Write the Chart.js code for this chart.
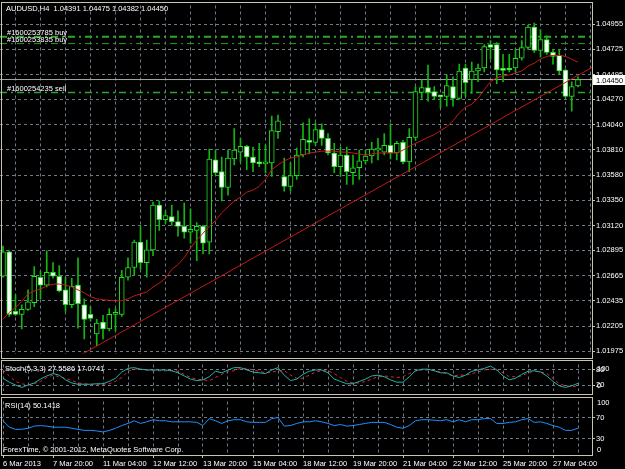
<!DOCTYPE html>
<html>
<head>
<meta charset="utf-8">
<title>AUDUSD,H4</title>
<script src="https://cdn.jsdelivr.net/npm/chart.js@4.4.1/dist/chart.umd.min.js"></script>
<style>
  body { margin: 0; background: #000; }
  #wrap { position: relative; width: 625px; height: 469px; background: #000; overflow: hidden; }
  #wrap canvas { position: absolute; left: 0; }
</style>
</head>
<body>
<div id="wrap">
  <canvas id="mainChart" width="625" height="359" style="top:0"></canvas>
  <canvas id="stochChart" width="625" height="37" style="top:359px"></canvas>
  <canvas id="rsiChart" width="625" height="73" style="top:396px"></canvas>
</div>
<script>
// ---- data ----
var symbolTitle = 'AUDUSD,H4  1.04391 1.04475 1.04382 1.04450';
var timeLabels = ['6 Mar 2013', '7 Mar 20:00', '11 Mar 04:00', '12 Mar 12:00', '13 Mar 20:00', '15 Mar 04:00',
  '18 Mar 12:00', '19 Mar 20:00', '21 Mar 04:00', '22 Mar 12:00', '25 Mar 20:00', '27 Mar 04:00'];
var priceTicks = [1.01975, 1.02205, 1.02435, 1.02665, 1.02895, 1.03120, 1.03350, 1.03580, 1.03810,
  1.04040, 1.04270, 1.04495, 1.04725, 1.04955];

var opens = [1.02659, 1.02881, 1.02339, 1.02312, 1.02357, 1.02418, 1.02650, 1.02579, 1.02694, 1.02659,
  1.02535, 1.02400, 1.02579, 1.02400, 1.02312, 1.02134, 1.02241, 1.02179, 1.02312, 1.02312,
  1.02650, 1.02739, 1.02970, 1.02784, 1.02899, 1.03308, 1.03175, 1.03202, 1.03157, 1.03113,
  1.03060, 1.03077, 1.03113, 1.02970, 1.03718, 1.03611, 1.03469, 1.03727, 1.03789, 1.03843,
  1.03745, 1.03691, 1.03682, 1.03691, 1.03976, 1.03567, 1.03478, 1.03576, 1.03763, 1.03896,
  1.03878, 1.03994, 1.03914, 1.03781, 1.03656, 1.03763, 1.03602, 1.03647, 1.03709, 1.03754,
  1.03807, 1.03789, 1.03851, 1.03781, 1.03878, 1.03700, 1.03923, 1.04332, 1.04377, 1.04341,
  1.04297, 1.04297, 1.04385, 1.04279, 1.04555, 1.04448, 1.04528, 1.04555, 1.04768, 1.04768,
  1.04537, 1.04555, 1.04555, 1.04644, 1.04742, 1.04928, 1.04715, 1.04813, 1.04697, 1.04670,
  1.04537, 1.04297, 1.04391];
var highs = [1.02935, 1.02890, 1.02490, 1.02400, 1.02535, 1.02748, 1.02703, 1.02890, 1.02784, 1.02757,
  1.02650, 1.02641, 1.02828, 1.02454, 1.02383, 1.02267, 1.02303, 1.02366, 1.02366, 1.02712,
  1.02828, 1.02988, 1.03113, 1.02988, 1.03335, 1.03344, 1.03255, 1.03308, 1.03255, 1.03326,
  1.03273, 1.03148, 1.03122, 1.03816, 1.03807, 1.03745, 1.03807, 1.04003, 1.03914, 1.03851,
  1.03834, 1.03869, 1.03851, 1.04118, 1.04127, 1.03736, 1.03691, 1.03825, 1.04056, 1.04092,
  1.04056, 1.04047, 1.03958, 1.03869, 1.03834, 1.03834, 1.03763, 1.03807, 1.03807, 1.03878,
  1.03914, 1.03958, 1.04047, 1.03887, 1.03896, 1.04003, 1.04385, 1.04448, 1.04581, 1.04385,
  1.04305, 1.04492, 1.04475, 1.04590, 1.04590, 1.04608, 1.04590, 1.04768, 1.04804, 1.04786,
  1.04679, 1.04679, 1.04724, 1.04804, 1.04946, 1.04964, 1.04902, 1.04848, 1.04724, 1.04724,
  1.04546, 1.04430, 1.04475];
var lows = [1.02650, 1.02294, 1.02303, 1.02179, 1.02348, 1.02383, 1.02454, 1.02561, 1.02641, 1.02517,
  1.02339, 1.02374, 1.02187, 1.02089, 1.02250, 1.02027, 1.02089, 1.02161, 1.02161, 1.02294,
  1.02623, 1.02668, 1.02721, 1.02650, 1.02846, 1.03077, 1.03140, 1.03122, 1.03024, 1.03006,
  1.02961, 1.02801, 1.02863, 1.02863, 1.03585, 1.03344, 1.03398, 1.03673, 1.03700, 1.03629,
  1.03611, 1.03656, 1.03602, 1.03567, 1.03914, 1.03433, 1.03433, 1.03540, 1.03745, 1.03772,
  1.03851, 1.03851, 1.03763, 1.03602, 1.03567, 1.03496, 1.03496, 1.03540, 1.03682, 1.03691,
  1.03718, 1.03763, 1.03727, 1.03718, 1.03682, 1.03611, 1.03896, 1.04279, 1.04252, 1.04270,
  1.04190, 1.04207, 1.04207, 1.04270, 1.04297, 1.04323, 1.04430, 1.04519, 1.04635, 1.04412,
  1.04430, 1.04519, 1.04519, 1.04626, 1.04724, 1.04697, 1.04653, 1.04679, 1.04590, 1.04501,
  1.04279, 1.04163, 1.04382];
var closes = [1.02881, 1.02312, 1.02312, 1.02357, 1.02427, 1.02659, 1.02579, 1.02694, 1.02659, 1.02526,
  1.02400, 1.02570, 1.02409, 1.02267, 1.02276, 1.02232, 1.02179, 1.02312, 1.02321, 1.02650,
  1.02739, 1.02970, 1.02784, 1.02899, 1.03308, 1.03175, 1.03211, 1.03157, 1.03113, 1.03060,
  1.03086, 1.03113, 1.02961, 1.03727, 1.03602, 1.03469, 1.03736, 1.03807, 1.03843, 1.03745,
  1.03691, 1.03682, 1.03691, 1.03985, 1.04074, 1.03478, 1.03576, 1.03763, 1.03905, 1.03878,
  1.03994, 1.03914, 1.03781, 1.03656, 1.03763, 1.03611, 1.03647, 1.03709, 1.03754, 1.03816,
  1.03810, 1.03851, 1.03781, 1.03869, 1.03700, 1.03923, 1.04341, 1.04377, 1.04332, 1.04297,
  1.04292, 1.04394, 1.04279, 1.04528, 1.04421, 1.04528, 1.04555, 1.04750, 1.04742, 1.04537,
  1.04534, 1.04537, 1.04644, 1.04742, 1.04928, 1.04715, 1.04813, 1.04697, 1.04661, 1.04528,
  1.04297, 1.04385, 1.04450];

var fastMA = [1.02267, 1.02330, 1.02374, 1.02428, 1.02499, 1.02525, 1.02543, 1.02570, 1.02588, 1.02588,
  1.02579, 1.02561, 1.02535, 1.02508, 1.02472, 1.02454, 1.02445, 1.02441, 1.02436, 1.02436,
  1.02454, 1.02481, 1.02499, 1.02517, 1.02561, 1.02596, 1.02641, 1.02721, 1.02766, 1.02828,
  1.02917, 1.02988, 1.03051, 1.03113, 1.03166, 1.03238, 1.03291, 1.03344, 1.03380, 1.03425,
  1.03443, 1.03478, 1.03540, 1.03629, 1.03673, 1.03709, 1.03736, 1.03745, 1.03763, 1.03781,
  1.03789, 1.03798, 1.03798, 1.03798, 1.03789, 1.03789, 1.03781, 1.03772, 1.03763, 1.03772,
  1.03781, 1.03781, 1.03781, 1.03781, 1.03807, 1.03843, 1.03869, 1.03896, 1.03923, 1.03949,
  1.03985, 1.04020, 1.04074, 1.04145, 1.04199, 1.04225, 1.04279, 1.04359, 1.04430, 1.04466,
  1.04483, 1.04492, 1.04510, 1.04528, 1.04572, 1.04599, 1.04635, 1.04661, 1.04670, 1.04670,
  1.04661, 1.04635, 1.04608];
// trend line anchors: [bar, price]
var trendLine = [[0, 1.01544], [95, 1.04584]];

var orderTags = ['#1600253785 buy', '#1600253835 buy', '#1600254235 sell'];
var orderPrices = [1.04839, 1.04777, 1.04332];
var bidPrice = 1.04450;

var stochLabel = 'Stoch(5,3,3) 27.5586 17.0741';
var stochMain = [47, 32, 21, 12, 21, 29, 44, 56, 65, 59,
  41, 29, 24, 24, 24, 26, 26, 35, 47, 71,
  85, 88, 82, 79, 79, 79, 79, 76, 68, 56,
  44, 38, 41, 53, 74, 68, 79, 88, 88, 79,
  71, 68, 65, 79, 88, 59, 38, 44, 62, 74,
  79, 79, 68, 44, 35, 26, 26, 35, 44, 56,
  59, 53, 41, 32, 32, 53, 76, 82, 82, 76,
  68, 68, 56, 50, 59, 74, 79, 85, 94, 79,
  56, 41, 47, 62, 74, 76, 71, 56, 35, 18,
  12, 18, 27.5586];
var stochSignal = [79, 56, 35, 26, 21, 26, 35, 50, 59, 53,
  47, 38, 29, 26, 24, 24, 24, 26, 35, 50,
  74, 82, 82, 79, 76, 76, 76, 76, 74, 62,
  50, 44, 41, 38, 50, 62, 74, 76, 85, 85,
  79, 74, 68, 71, 76, 76, 59, 47, 47, 59,
  71, 76, 76, 65, 50, 35, 29, 29, 35, 44,
  53, 56, 53, 50, 53, 65, 74, 79, 79, 76,
  71, 65, 56, 59, 59, 65, 71, 79, 82, 79,
  68, 53, 53, 56, 68, 74, 71, 65, 47, 26,
  18, 15, 17.0741];

var rsiLabel = 'RSI(14) 50.1418';
var rsiValues = [64, 52, 48, 48, 50, 54, 55, 54, 52, 52,
  52, 50, 48, 46, 46, 45, 43, 46, 50, 55,
  59, 64, 59, 62, 66, 64, 64, 62, 62, 62,
  62, 61, 55, 68, 64, 59, 64, 66, 66, 62,
  61, 61, 61, 68, 70, 54, 55, 59, 62, 62,
  64, 62, 59, 55, 57, 54, 55, 57, 59, 61,
  61, 61, 57, 52, 50, 55, 64, 66, 66, 65,
  64, 66, 62, 66, 62, 66, 66, 68, 68, 59,
  59, 61, 62, 66, 68, 61, 62, 59, 55, 52,
  46, 46, 50.1418];

var copyright = 'ForexTime, \u00a9 2001-2012, MetaQuotes Software Corp.';

// ---- look ----
var FONT_FAMILY = 'Liberation Sans';
var FONT_SIZE = 7.5;
var FONT = FONT_SIZE + 'px "' + FONT_FAMILY + '"';
var GRID = '#6c7a88';
var FRAME = '#c8c4b4';
var X_MIN = -0.48, X_MAX = 94.24;

function xAxis(showLabels) {
  return {
    type: 'linear', min: X_MIN, max: X_MAX, offset: false,
    afterBuildTicks: function(s) {
      var t = [];
      for (var i = 0; i <= 92; i += 4) t.push({value: i});
      s.ticks = t;
    },
    grid: {
      color: GRID, drawTicks: showLabels, tickLength: 3,
      tickColor: function(c) { return c.tick && c.tick.value % 8 === 0 ? FRAME : 'rgba(0,0,0,0)'; }
    },
    border: { display: false, dash: [3, 3] },
    ticks: {
      display: showLabels, autoSkip: false, maxRotation: 0, align: 'start', padding: 1,
      color: '#fff', font: {family: FONT_FAMILY, size: FONT_SIZE},
      callback: function(v) { return v % 8 === 0 ? timeLabels[v / 8] : ''; }
    },
    afterFit: function(s) { s.height = showLabels ? 14 : 0; }
  };
}

function yAxis(min, max, tickVals, fmt) {
  return {
    position: 'right', min: min, max: max,
    afterBuildTicks: function(s) { s.ticks = tickVals.map(function(v) { return {value: v}; }); },
    grid: { color: GRID, tickLength: 3, tickColor: FRAME },
    border: { display: false, dash: [3, 3] },
    ticks: { color: '#fff', padding: 1, font: {family: FONT_FAMILY, size: FONT_SIZE}, callback: fmt },
    afterFit: function(s) { s.width = 33; }
  };
}

function hLine(price, color, dash, width) {
  return {
    type: 'line', data: [{x: X_MIN, y: price}, {x: X_MAX, y: price}],
    borderColor: color, borderWidth: width, borderDash: dash, pointRadius: 0, order: 4
  };
}

var baseOpts = {
  responsive: false, animation: false, devicePixelRatio: 1,
  plugins: { legend: {display: false}, tooltip: {enabled: false} },
  events: []
};

function opts(extra) { return Object.assign({}, baseOpts, extra); }

// ---- main pane ----
var bodyFill = opens.map(function(o, i) { return closes[i] >= o ? '#000' : '#fff'; });

var mainDeco = {
  id: 'mainDeco',
  afterDraw: function(chart) {
    var ctx = chart.ctx, y = chart.scales.y;
    ctx.save();
    ctx.strokeStyle = FRAME; ctx.lineWidth = 1;
    ctx.strokeRect(1.5, 2.5, 591, 356);
    ctx.font = FONT; ctx.textBaseline = 'middle'; ctx.fillStyle = '#fff';
    ctx.fillText(symbolTitle, 6, 9);
    for (var k = 0; k < orderTags.length; k++) {
      ctx.fillText(orderTags[k], 7, y.getPixelForValue(orderPrices[k]) - 4);
    }
    var by = Math.round(y.getPixelForValue(bidPrice));
    ctx.fillStyle = '#fff'; ctx.fillRect(593, by - 5, 32, 10);
    ctx.fillStyle = '#000'; ctx.fillText(bidPrice.toFixed(5), 596, by + 0.5);
    ctx.restore();
  }
};

new Chart(document.getElementById('mainChart'), {
  type: 'bar',
  data: {
    datasets: [
      { type: 'line', data: fastMA.map(function(v, i) { return {x: i, y: v}; }),
        borderColor: '#c41818', borderWidth: 1, pointRadius: 0, order: 0 },
      { type: 'line', data: trendLine.map(function(p) { return {x: p[0], y: p[1]}; }),
        borderColor: '#c41818', borderWidth: 1, pointRadius: 0, order: 0 },
      { type: 'bar', data: opens.map(function(o, i) { return {x: i, y: [o, closes[i]]}; }),
        backgroundColor: bodyFill, borderColor: '#22e022', borderWidth: 1, borderSkipped: false,
        barThickness: 5, minBarLength: 2, grouped: false, order: 1 },
      { type: 'bar', data: lows.map(function(l, i) { return {x: i, y: [l, highs[i]]}; }),
        backgroundColor: '#14b414', barThickness: 1, grouped: false, order: 2 },
      hLine(orderPrices[0], '#2aa82a', [7, 4, 2, 4], 2),
      hLine(orderPrices[1], '#2a9a2a', [7, 4, 2, 4], 1),
      hLine(orderPrices[2], '#2aa82a', [7, 4, 2, 4], 1.5),
      hLine(bidPrice, '#a8a8a8', [], 1)
    ]
  },
  options: opts({
    layout: { padding: {top: 2, bottom: 1, left: 0, right: 0} },
    scales: {
      x: xAxis(false),
      y: yAxis(1.01956, 1.05124, priceTicks, function(v) { return v.toFixed(5); })
    }
  }),
  plugins: [mainDeco]
});

// ---- stochastic pane ----
var stochDeco = {
  id: 'stochDeco',
  afterDraw: function(chart) {
    var ctx = chart.ctx, y = chart.scales.y;
    ctx.save();
    ctx.strokeStyle = FRAME; ctx.lineWidth = 1;
    ctx.strokeRect(1.5, 1.5, 591, 34);
    ctx.font = FONT; ctx.textBaseline = 'middle'; ctx.fillStyle = '#fff';
    ctx.fillText(stochLabel, 5, 10);
    ctx.fillText('100', 597, y.getPixelForValue(80) - 1);
    ctx.fillText('0', 597, y.getPixelForValue(20) + 1);
    ctx.restore();
  }
};

new Chart(document.getElementById('stochChart'), {
  type: 'line',
  data: {
    datasets: [
      { data: stochMain.map(function(v, i) { return {x: i, y: v}; }),
        borderColor: '#20b2aa', borderWidth: 1, pointRadius: 0 },
      { data: stochSignal.map(function(v, i) { return {x: i, y: v}; }),
        borderColor: '#e02828', borderWidth: 1, borderDash: [3, 3], pointRadius: 0 }
    ]
  },
  options: opts({
    layout: { padding: {top: 2, bottom: 1, left: 0, right: 0} },
    scales: {
      x: xAxis(false),
      y: yAxis(0, 100, [20, 80], function(v) { return String(v); })
    }
  }),
  plugins: [stochDeco]
});

// ---- RSI pane ----
var rsiDeco = {
  id: 'rsiDeco',
  afterDraw: function(chart) {
    var ctx = chart.ctx;
    ctx.save();
    ctx.strokeStyle = FRAME; ctx.lineWidth = 1;
    ctx.strokeRect(1.5, 1.5, 591, 58);
    ctx.font = FONT; ctx.textBaseline = 'middle'; ctx.fillStyle = '#fff';
    ctx.fillText(rsiLabel, 5, 9.5);
    ctx.fillText(copyright, 3, 54);
    ctx.fillText('100', 597, 6.7);
    ctx.fillText('0', 597, 54);
    ctx.restore();
  }
};

new Chart(document.getElementById('rsiChart'), {
  type: 'line',
  data: {
    datasets: [
      { data: rsiValues.map(function(v, i) { return {x: i, y: v}; }),
        borderColor: '#1e90ff', borderWidth: 1, pointRadius: 0 }
    ]
  },
  options: opts({
    layout: { padding: {top: 2, bottom: 0, left: 0, right: 0} },
    scales: {
      x: xAxis(true),
      y: yAxis(0, 100, [30, 70], function(v) { return String(v); })
    }
  }),
  plugins: [rsiDeco]
});
</script>
</body>
</html>
